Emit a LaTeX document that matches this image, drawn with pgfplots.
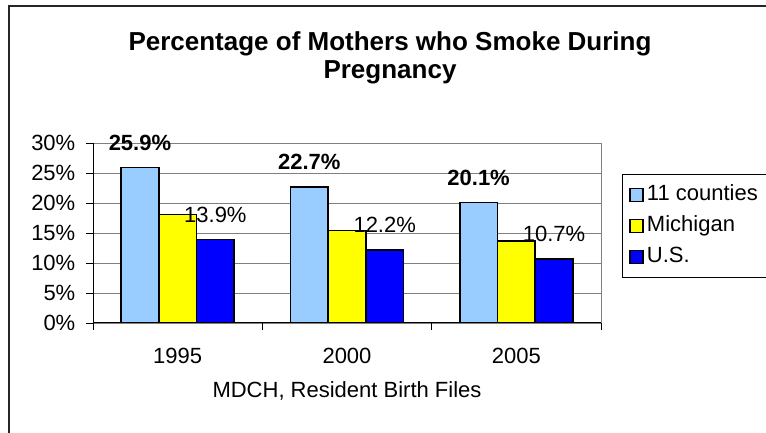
\documentclass[border=0pt]{standalone}
\usepackage{fontspec}
\setmainfont{Liberation Sans}
\usepackage{pgfplots}
\pgfplotsset{compat=1.18}
\definecolor{cty}{HTML}{99CCFF}
\definecolor{mich}{HTML}{FFFF00}
\definecolor{usblue}{HTML}{0000FF}
\definecolor{gridgray}{HTML}{808080}
\newcommand{\lbl}{\fontsize{22}{26}\selectfont}

\begin{document}
\begin{tikzpicture}[x=1pt,y=1pt]
\useasboundingbox (0,0) rectangle (766,433);
\clip (0,0) rectangle (766,433);
\draw[line width=1.5pt,black!85] (9,-5) -- (9,427) -- (790,427);
\node[font=\fontsize{26}{28}\selectfont\bfseries,align=center] at (390,375)
  {Percentage of Mothers who Smoke During\\Pregnancy};

\begin{axis}[
  at={(93pt,110pt)},anchor=south west,scale only axis,
  width=508pt,height=180pt,
  xmin=-0.5,xmax=2.5,ymin=0,ymax=30,
  axis x line*=bottom,axis y line*=left,
  axis line style={black,line width=1pt},
  xtick={-0.5,0.5,1.5,2.5},x tick label as interval,
  xticklabels={1995,2000,2005},
  ytick={0,5,...,30},
  yticklabels={0\%,5\%,10\%,15\%,20\%,25\%,30\%},
  tick align=outside,major tick length=7pt,
  tick style={black,line width=0.8pt},
  ymajorgrids,grid style={gridgray,line width=0.8pt},
  tick label style={font=\lbl},
  xticklabel style={inner sep=0pt,yshift=-17.8pt},
  yticklabel style={inner sep=0pt,xshift=-10.5pt},
  xlabel={MDCH, Resident Birth Files},
  xlabel style={font=\lbl,at={(axis description cs:0.5,0)},anchor=center,yshift=-68pt},
  /pgf/number format/assume math mode=true,
  ybar,
  bar width=0.2227,
  legend image code/.code={\draw[#1,line width=1.5pt] (0pt,-6.5pt) rectangle (13pt,6.5pt);},
  legend style={at={(1.0413,0.8278)},anchor=north west,draw=black,line width=1pt,
    font=\lbl,inner xsep=7pt,inner ysep=10pt,row sep=10pt,
    nodes={inner sep=0pt,text height=16pt,text depth=5pt},cells={anchor=west}},
  after end axis/.code={\draw[gridgray,line width=0.8pt] (rel axis cs:1,0) -- (rel axis cs:1,1);},
]
\addplot[bar shift=-0.2227,fill=cty,draw=black,line width=1.5pt,
  nodes near coords={\pgfmathprintnumber[fixed,fixed zerofill,precision=1]{\pgfplotspointmeta}\%},
  every node near coord/.append style={font=\lbl\bfseries,anchor=center,yshift=24.7pt,inner sep=0pt,text=black}]
  coordinates {(0,25.9) (1,22.7) (2,20.1)};
\addlegendentry{\makebox[3pt][l]{}11 counties\makebox[120pt]{}}
\addplot[bar shift=0,fill=mich,draw=black,line width=1.5pt]
  coordinates {(0,18.1) (1,15.4) (2,13.7)};
\addlegendentry{\makebox[3pt][l]{}Michigan}
\addplot[bar shift=0.2227,fill=usblue,draw=black,line width=1.5pt,
  nodes near coords={\pgfmathprintnumber[fixed,fixed zerofill,precision=1]{\pgfplotspointmeta}\%},
  every node near coord/.append style={font=\lbl,anchor=center,yshift=24.7pt,inner sep=0pt,text=black}]
  coordinates {(0,13.9) (1,12.2) (2,10.7)};
\addlegendentry{\makebox[3pt][l]{}U.S.}
\end{axis}
\end{tikzpicture}
\end{document}
